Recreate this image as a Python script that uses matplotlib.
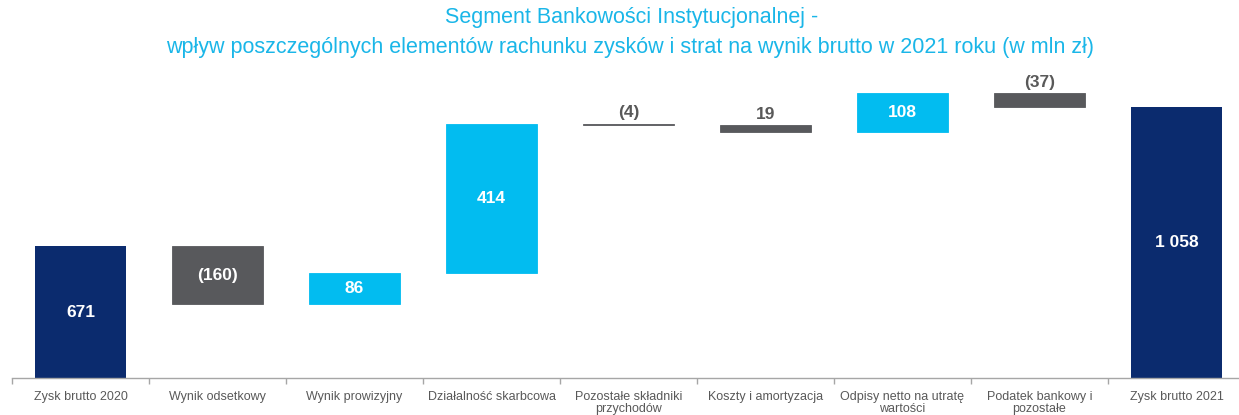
import matplotlib
matplotlib.use("Agg")
import matplotlib.pyplot as plt
import numpy as np

# Waterfall data (mln zł)
categories = [
    "Zysk brutto 2020",
    "Wynik odsetkowy",
    "Wynik prowizyjny",
    "Działalność skarbcowa",
    "Pozostałe składniki\nprzychodów",
    "Koszty i amortyzacja",
    "Odpisy netto na utratę\nwartości",
    "Podatek bankowy i\npozostałe",
    "Zysk brutto 2021",
]
start_total = 671
changes = [-160, 86, 414, -4, -19, 108, -37]
end_total = 1058
value_labels = ["671", "(160)", "86", "414", "(4)", "19", "108", "(37)", "1 058"]

NAVY = "#0B2B6E"
BLUE = "#02BCF0"
GREY = "#58595C"
TEXT_GREY = "#595959"
AXIS_GREY = "#A6A6A6"
TITLE_BLUE = "#1AB6E8"

plt.rcParams["font.family"] = ["Liberation Sans", "DejaVu Sans"]

fig = plt.figure(figsize=(12.39, 4.15), dpi=100)
ax = fig.add_axes([12 / 1239, 37 / 415, 137 * 9 / 1239, 318 / 415])

x = np.arange(len(categories))
width = 0.665

# Running level before/after each change
levels = start_total + np.concatenate([[0], np.cumsum(changes)])
change_bottoms = levels[:-1]

# Total bars
ax.bar([x[0], x[-1]], [start_total, end_total], width=width, color=NAVY, zorder=2)

# Change bars
change_colors = [BLUE if c > 0 else GREY for c in changes]
ax.bar(x[1:-1], changes, bottom=change_bottoms, width=width,
       color=change_colors, edgecolor=change_colors, linewidth=0.6, zorder=2)

ymin, ymax = 305, 305 + 318 / 0.36
ax.set_ylim(ymin, ymax)
ax.set_xlim(-0.5, len(categories) - 0.5)

# Value labels
bar_tops = [start_total] + list(np.maximum(change_bottoms, change_bottoms + changes)) + [end_total]
bar_lows = [ymin] + list(np.minimum(change_bottoms, change_bottoms + changes)) + [ymin]
magnitudes = [start_total] + [abs(c) for c in changes] + [end_total]
for xi, top, low, mag, lab in zip(x, bar_tops, bar_lows, magnitudes, value_labels):
    if mag >= 50:
        ax.text(xi, (top + low) / 2, lab, ha="center", va="center",
                color="white", fontsize=12.5, fontweight="bold", zorder=3)
    else:
        ax.annotate(lab, (xi, top), xytext=(0, 2.5), textcoords="offset points",
                    ha="center", va="bottom", color=TEXT_GREY,
                    fontsize=12.5, fontweight="bold", zorder=3)

# Axes styling
for side in ("top", "right", "left"):
    ax.spines[side].set_visible(False)
ax.spines["bottom"].set_color(AXIS_GREY)
ax.spines["bottom"].set_linewidth(1.0)
ax.set_yticks([])
ax.set_xticks(x)
ax.set_xticklabels(categories, fontsize=9, color=TEXT_GREY, linespacing=1.0)
ax.tick_params(axis="x", which="major", length=0, pad=9.5)
ax.set_xticks(np.arange(-0.5, len(categories), 1.0), minor=True)
ax.tick_params(axis="x", which="minor", length=4, color=AXIS_GREY, width=1.0)

# Title
fig.text(632 / 1239, 1 - 18 / 415, "Segment Bankowości Instytucjonalnej -",
         ha="center", va="center", color=TITLE_BLUE, fontsize=15.5)
fig.text(630 / 1239, 1 - 47 / 415,
         "wpływ poszczególnych elementów rachunku zysków i strat na wynik brutto w 2021 roku (w mln zł)",
         ha="center", va="center", color=TITLE_BLUE, fontsize=15.5)

fig.savefig("out.png", dpi=100)
